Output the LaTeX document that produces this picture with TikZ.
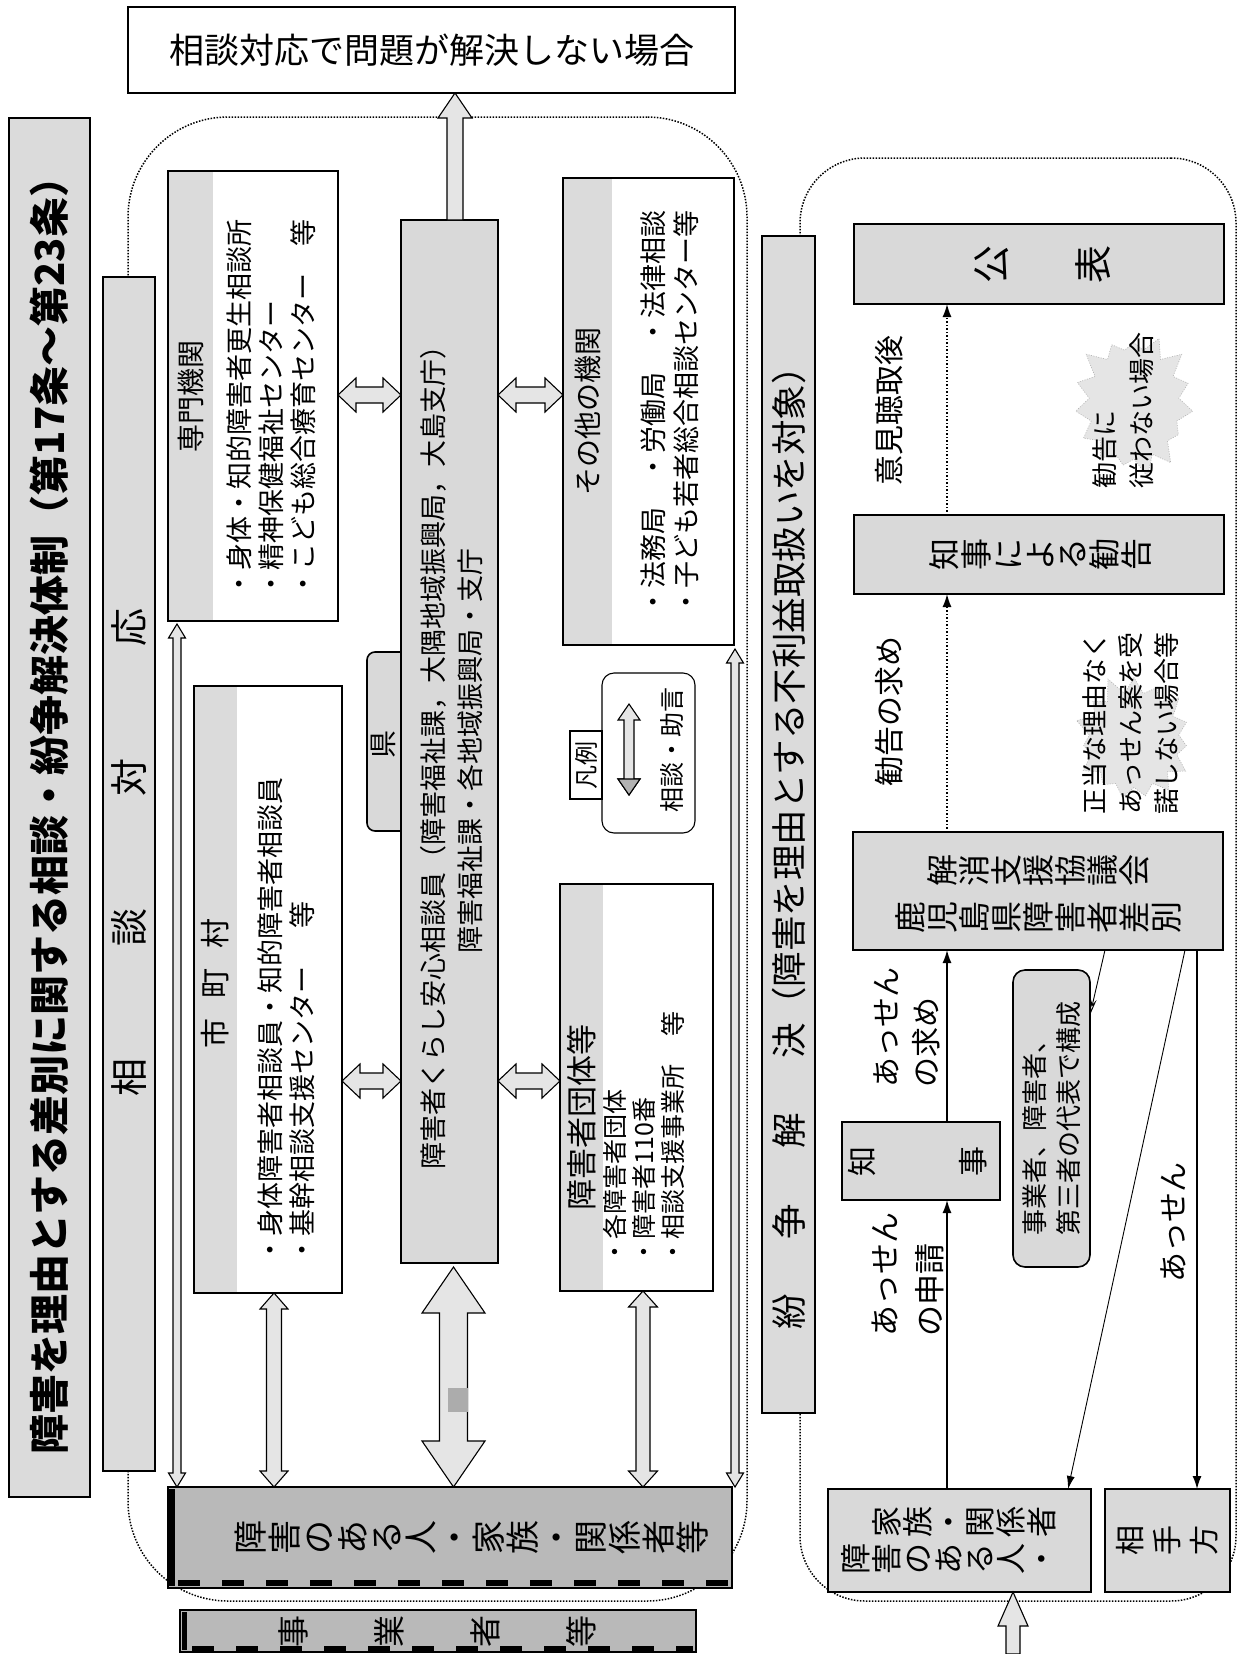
\documentclass[tikz,border=0pt]{standalone}
\usepackage{fontspec}
\setmainfont{Noto Sans CJK JP}
\usetikzlibrary{calc,shapes.symbols,arrows.meta}
\newcommand\fs[2]{\fontsize{#1}{#2}\selectfont}
\makeatletter
\newcommand\rtxt[2][0pt]{\def\rt@sep{#1}\rt@first#2\relax}
\def\rt@one#1{\rotatebox[origin=c]{90}{\raisebox{0pt}[0.88em][0.12em]{#1}}}
\def\rt@first#1{\ifx\relax#1\else\rt@one{#1}\expandafter\rt@rest\fi}
\def\rt@rest#1{\ifx\relax#1\else\hspace{\rt@sep}\rt@one{#1}\expandafter\rt@rest\fi}
\makeatother
\newcommand\bx[6][]{\node[#1, minimum width={(#4)-(#2)}, minimum height={(#5)-(#3)}] (#6) at ({((#2)+(#4))/2},{((#3)+(#5))/2}) {};}
% horizontal double block arrow: left point, right point, shaft half, head half, head length
\newcommand\hdarrow[5]{\path[blockarrow] let \p1=#1, \p2=#2 in
  (\x1,\y1) -- (\x1+#5,\y1+#4) -- (\x1+#5,\y1+#3) -- (\x2-#5,\y1+#3) -- (\x2-#5,\y1+#4) -- (\x2,\y1)
  -- (\x2-#5,\y1-#4) -- (\x2-#5,\y1-#3) -- (\x1+#5,\y1-#3) -- (\x1+#5,\y1-#4) -- cycle;}
% vertical double block arrow: top point (gives x), bottom point
\newcommand\vdarrow[5]{\path[blockarrow] let \p1=#1, \p2=#2 in
  (\x1,\y1) -- (\x1+#4,\y1-#5) -- (\x1+#3,\y1-#5) -- (\x1+#3,\y2+#5) -- (\x1+#4,\y2+#5) -- (\x1,\y2)
  -- (\x1-#4,\y2+#5) -- (\x1-#3,\y2+#5) -- (\x1-#3,\y1-#5) -- (\x1-#4,\y1-#5) -- cycle;}
% upward single block arrow: tail point (gives x), tip point
\newcommand\upblk[5]{\path[blockarrow] let \p1=#1, \p2=#2 in
  (\x1,\y2) -- (\x1+#4,\y2-#5) -- (\x1+#3,\y2-#5) -- (\x1+#3,\y1) -- (\x1-#3,\y1) -- (\x1-#3,\y2-#5) -- (\x1-#4,\y2-#5) -- cycle;}
\tikzset{
  every node/.style={inner sep=0pt, outer sep=0pt},
  bxbase/.style={rectangle, anchor=center},
  frame/.style={bxbase, draw=black, line width=1.6pt, fill=white},
  shaded/.style={bxbase, draw=black, line width=1.6pt, fill=gray!30},
  heavy/.style={bxbase, draw=black, line width=2.6pt, fill=gray!28},
  darkbox/.style={bxbase, draw=black, line width=1.8pt, fill=gray!55},
  region/.style={bxbase, draw=black, line width=1.5pt, dash pattern=on 1.5pt off 1.5pt, rounded corners=100pt},
  vtext/.style={rotate=90, anchor=center},
  blockarrow/.style={draw=black, line width=1.1pt, fill=gray!20},
  flow/.style={-{Latex[length=13pt,width=9pt]}, line width=1.5pt},
  dflow/.style={flow, dash pattern=on 1.5pt off 2pt},
  stripfill/.style={fill=gray!28},
  burst/.style={starburst, starburst points=15, starburst point height=20pt, fill=gray!20, draw=gray!60, line width=0.6pt, dash pattern=on 1pt off 1.5pt},
}
\begin{document}
\begin{tikzpicture}[x=1pt,y=-1pt]
\useasboundingbox (0,0) rectangle (1239,1654);
\fill[white] (0,0) rectangle (1239,1654);

% ---------- regions ----------
\bx[region]{128}{117}{747}{1601}{lreg}
\bx[region, rounded corners=65pt]{800}{158}{1236}{1601}{rreg}

% ---------- top box and title ----------
\bx[frame, line width=2pt]{128}{7}{735}{93}{topbox}
\node[font={\fs{35}{40}}] (toptext) at (topbox.center) {相談対応で問題が解決しない場合};
\bx[heavy]{9}{118}{90}{1497}{titlebar}
\node[vtext, font={\fs{40}{48}\bfseries}] (titletext) at (49.5,806) {障害を理由とする差別に関する相談・紛争解決体制（第17条～第23条）};

% ---------- left region boxes ----------
\node[shaded, rounded corners=8pt, minimum width=41, minimum height=179] (kentab) at (387.5,741.5) {};
\bx[shaded, line width=2.2pt]{401}{220}{498}{1263}{ken}

\bx[frame]{168}{171}{338}{621}{senmon}
\fill[stripfill] (senmon.north west) rectangle ($(senmon.south west)+(45,0)$);
\draw[line width=1.6pt] (senmon.north west) rectangle (senmon.south east);

\bx[frame]{194}{686}{342}{1293}{shicho}
\fill[stripfill] (shicho.north west) rectangle ($(shicho.south west)+(43,0)$);
\draw[line width=1.6pt] (shicho.north west) rectangle (shicho.south east);

\bx[frame]{563}{178}{734}{645}{sonota}
\fill[stripfill] (sonota.north west) rectangle ($(sonota.south west)+(49,0)$);
\draw[line width=1.6pt] (sonota.north west) rectangle (sonota.south east);

\bx[frame]{560}{884}{713}{1291}{dantai}
\fill[stripfill] (dantai.north west) rectangle ($(dantai.south west)+(43,0)$);
\draw[line width=1.6pt] (dantai.north west) rectangle (dantai.south east);

% legend
\bx[frame, line width=1.1pt, rounded corners=12pt]{602}{673}{695}{833}{legend}
\bx[frame, line width=1.1pt]{570}{731}{602}{799}{hanrei}

% dark box: people
\bx[darkbox]{168}{1487}{732}{1588}{hitoL}
\draw[line width=6pt, dash pattern=on 22pt off 22pt] ($(hitoL.south west)+(10,-5)$) -- ($(hitoL.south east)+(-2,-5)$);
\draw[line width=6pt] ($(hitoL.north west)+(4,2)$) -- ($(hitoL.south west)+(4,-2)$);

% bottom box
\bx[darkbox, line width=2.6pt]{180}{1610}{696}{1652}{kankei}
\draw[line width=5pt, dash pattern=on 22pt off 22pt] ($(kankei.south west)+(12,-4)$) -- ($(kankei.south east)+(-3,-4)$);
\draw[line width=5pt] ($(kankei.north west)+(4,2)$) -- ($(kankei.south west)+(4,-2)$);

% ---------- bars ----------
\bx[heavy, line width=2pt]{103}{277}{155}{1471}{soudanbar}
\bx[heavy, line width=2pt]{762}{236}{815}{1413}{funsoubar}

% ---------- right region boxes ----------
\bx[shaded]{854}{224}{1224}{304}{kohyo}
\bx[shaded]{854}{515}{1224}{594}{kankoku}
\bx[shaded]{853}{832}{1223}{950}{kyogikai}
\bx[shaded]{842}{1122}{1000}{1200}{chiji}
\bx[shaded, rounded corners=12pt]{1013}{970}{1090}{1267}{jigyosha}
\bx[shaded]{828}{1489}{1091}{1592}{hitoR}
\bx[shaded]{1105}{1489}{1230}{1592}{aite}

% ---------- block arrows ----------
\upblk{([xshift=5.5pt]ken.north)}{(topbox.south)}{8pt}{17pt}{25pt}
\hdarrow{(senmon.east |- 0,395)}{(ken.west |- 0,395)}{8pt}{17pt}{18pt}
\hdarrow{(ken.east |- 0,395)}{(sonota.west |- 0,395)}{8pt}{17pt}{18pt}
\hdarrow{(shicho.east |- 0,1081)}{(ken.west |- 0,1081)}{8pt}{17pt}{18pt}
\hdarrow{(ken.east |- 0,1081)}{(dantai.west |- 0,1081)}{8pt}{17pt}{18pt}
\vdarrow{([xshift=9pt,yshift=-3pt]senmon.south west)}{(hitoL.north west)}{4pt}{8.5pt}{14pt}
\vdarrow{([xshift=1pt,yshift=-4pt]sonota.south east)}{(hitoL.north east)}{4pt}{8.5pt}{14pt}
\vdarrow{([xshift=80pt]shicho.south west)}{(hitoL.north)}{7.5pt}{14pt}{16pt}
\vdarrow{([xshift=4pt,yshift=-4pt]ken.south)}{(hitoL.north)}{14pt}{31.5pt}{46pt}
\fill[gray!65] (448,1388) rectangle (468,1412);
\vdarrow{([xshift=83pt]dantai.south west)}{(hitoL.north)}{7pt}{14.5pt}{16pt}
\coordinate (lgtop) at (629,704);
\coordinate (lgbot) at (629,795);
\vdarrow{(lgtop)}{(lgbot)}{5pt}{11pt}{16pt}
\path[fill=gray!60, draw=black, line width=1.1pt] (618,779) -- (640,779) -- (lgbot) -- cycle;
\coordinate (bottomend) at (1013,1654);
\upblk{(bottomend)}{(hitoR.south)}{7pt}{15pt}{34pt}

% ---------- callouts ----------
\node[burst, random starburst=3, minimum width=130pt, minimum height=150pt] (burst1) at (1134,404) {};
\node[burst, random starburst=11, minimum width=130pt, minimum height=135pt] (burst2) at (1134,740) {};

% ---------- flow arrows ----------
\draw[flow] (chiji.north -| 947,0) -- (kyogikai.south -| 947,0);
\draw[flow] (hitoR.north -| 947,0) -- (chiji.south -| 947,0);
\draw[dflow] (kyogikai.north -| 947,0) -- (kankoku.south -| 947,0);
\draw[dflow] (kankoku.north -| 947,0) -- (kohyo.south -| 947,0);
\draw[-{Latex[length=13pt,width=8pt]}, line width=0.9pt] (kyogikai.south -| 1185,0) -- (hitoR.north -| 1068,0);
\draw[flow] (kyogikai.south -| 1197,0) -- (aite.north -| 1197,0);
\draw[-{Stealth[open,length=16pt,width=6pt]}, line width=0.9pt] (kyogikai.south -| 1105,0) -- (jigyosha.east |- 0,1015);

% ---------- texts ----------
\node[vtext, font={\fs{38}{44}}] (soudantext) at (129,852) {相\hspace{112pt}談\hspace{112pt}対\hspace{112pt}応};
\node[vtext, font={\fs{35.5}{40}}] (funsoutext) at (788.5,839.5) {紛\hspace{55pt}争\hspace{55pt}解\hspace{55pt}決（障害を理由とする不利益取扱いを対象）};

\node[vtext, font={\fs{28}{32}}] (senmontitle) at (190.5,396) {専門機関};
\node[vtext, font={\fs{27}{32}}, text width=378pt, align=left] (senmonlist) at (271.5,408) {・身体・知的障害者更生相談所\\・精神保健福祉センター\\・こども総合療育センター\hfill 等};

\node[vtext, font={\fs{30}{36}}] (shichotitle) at (215.5,983) {市\hspace{20pt}町\hspace{20pt}村};
\node[vtext, font={\fs{27}{32}}, text width=486pt, align=left] (shicholist) at (286,1020) {・身体障害者相談員・知的障害者相談員\\・基幹相談支援センター\hspace{1.4em}等};

\node[vtext, font={\fs{27}{37}}, align=center] (kentext) at (451.5,751) {障害者くらし安心相談員（障害福祉課，大隅地域振興局，大島支庁）\\障害福祉課・各地域振興局・支庁};
\node[vtext, font={\fs{28}{32}}] (kentabtext) at (383,744) {県};

\node[vtext, font={\fs{28}{32}}] (sonotatitle) at (588,411) {その他の機関};
\node[vtext, font={\fs{27}{33}}, text width=405pt, align=left] (sonotalist) at (669.5,412.5) {・法務局　・労働局　・法律相談\\・子ども若者総合相談センター等};

\node[vtext, font={\fs{31}{36}}] (dantaititle) at (582,1117) {障害者団体等};
\node[vtext, font={\fs{25}{29}}, text width=253pt, align=left] (dantailist) at (644,1137.5) {・各障害者団体\\・障害者110番\\・相談支援事業所\hfill 等};

\node[vtext, font={\fs{24}{28}}] (hanreitext) at (hanrei.center) {凡例};
\node[vtext, font={\fs{25}{30}}] (legendtext) at (672,750) {相談・助言};

\node[font={\fs{34}{40}}] (hitoLtext) at (472,1537.5) {\rtxt{障害のある人・家族・関係者等}};
\node[font={\fs{32}{38}}] (kankeitext) at (437.5,1631) {\rtxt[64pt]{事業者等}};

\node[font={\fs{38}{44}}] (kohyotext) at (1042,264) {\rtxt[64pt]{公表}};
\node[font={\fs{32}{38}}] (kankokutext) at (1040,554) {\rtxt{知事による勧告}};
\node[font={\fs{32}{47}}, align=center] (kyogikaitext) at (1038,893.5) {\rtxt{解消支援協議会}\\\rtxt{鹿児島県障害者差別}};
\node[font={\fs{30}{36}}] (chijitext) at (917.5,1161) {\rtxt[81pt]{知事}};
\node[vtext, font={\fs{26}{34}}, text width=234pt, align=left] (jigyoshatext) at (1051.5,1118.5) {事業者、障害者、\\第三者の代表で構成};
\node[font={\fs{31}{37}}, align=right, anchor=east] (hitoRtext) at (1057,1540.5) {\rtxt{家族・関係者}\\\rtxt{障害のある人・}};
\node[font={\fs{30}{36}}] (aitetext) at (1167,1540.5) {\rtxt[7pt]{相手方}};

\node[vtext, font={\fs{30}{36}}] (ikenlbl) at (889,410) {意見聴取後};
\node[vtext, font={\fs{30}{36}}] (kankokulbl) at (889,711) {勧告の求め};
\node[vtext, font={\fs{30}{40}}, text width=120pt, align=left] (assenmotome) at (907,1027) {あっせん\\の求め};
\node[vtext, font={\fs{31}{45}}, text width=124pt, align=left] (assenshinsei) at (907.5,1274) {あっせん\\の申請};
\node[vtext, font={\fs{30}{36}}] (assenlbl) at (1173,1222) {あっせん};

\node[vtext, font={\fs{26}{37}}, text width=156pt, align=left] (burst1text) at (1123,410) {勧告に\\従わない場合};
\node[vtext, font={\fs{26}{36}}, text width=182pt, align=left] (burst2text) at (1131,723) {正当な理由なく\\あっせん案を受\\諾しない場合\hfill 等};
\end{tikzpicture}
\end{document}
